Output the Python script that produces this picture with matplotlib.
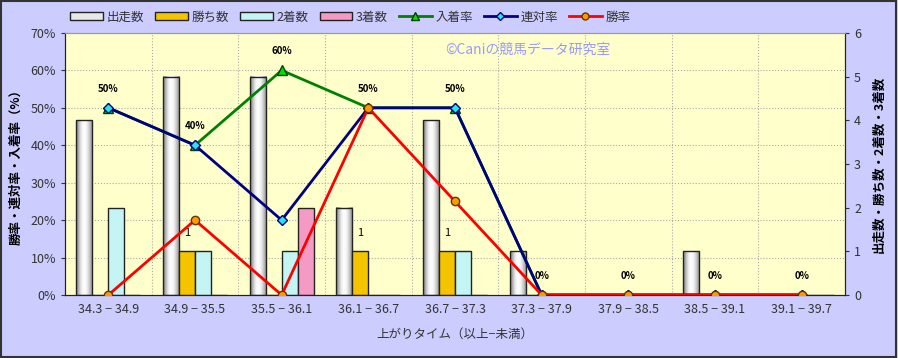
import numpy as np
import matplotlib
matplotlib.use("Agg")
import matplotlib.pyplot as plt
from matplotlib.patches import Rectangle, Patch
from matplotlib.lines import Line2D

plt.rcParams['font.family'] = ['Noto Sans CJK JP', 'DejaVu Sans']

# データ
categories = ['34.3 − 34.9', '34.9 − 35.5', '35.5 − 36.1', '36.1 − 36.7', '36.7 − 37.3',
              '37.3 − 37.9', '37.9 − 38.5', '38.5 − 39.1', '39.1 − 39.7']
runs = [4, 5, 5, 2, 4, 1, 0, 1, 0]
wins = [0, 1, 0, 1, 1, 0, 0, 0, 0]
seconds = [2, 1, 1, 0, 1, 0, 0, 0, 0]
thirds = [0, 0, 2, 0, 0, 0, 0, 0, 0]
place_rate = [50, 40, 60, 50, 50, 0, 0, 0, 0]
rentai_rate = [50, 40, 20, 50, 50, 0, 0, 0, 0]
win_rate = [0, 20, 0, 50, 25, 0, 0, 0, 0]

bg = '#CCCCFF'
fig = plt.figure(figsize=(8.98, 3.58), dpi=100, facecolor=bg)
fig.patches.append(Rectangle((0.001, 0.002), 0.997, 0.996, transform=fig.transFigure,
                             fill=False, edgecolor='#333333', linewidth=1.5))

ax = fig.add_axes([0.0724, 0.176, 0.8686, 0.732])
ax2 = ax.twinx()
ax.set_zorder(ax2.get_zorder() + 1)
ax.patch.set_visible(False)
ax2.patch.set_visible(True)
ax2.set_facecolor('#FFFFCC')

x = np.arange(len(categories))
w = 0.185

# グリッド（左軸の10%刻み）
for t in range(10, 70, 10):
    ax2.axhline(t * 6 / 70, color='#AAAAAA', linestyle=':', linewidth=0.8, zorder=0)
for b in np.arange(0.5, len(categories) - 0.5, 1):
    ax2.axvline(b, color='#AAAAAA', linestyle=':', linewidth=0.8, zorder=0)

# 棒グラフ（右軸）
grad = np.array([[0.55, 0.8, 0.97, 1.0, 0.95, 0.8, 0.6]])
for i, v in enumerate(runs):
    if v > 0:
        left = x[i] - 2 * w
        ax2.imshow(grad, cmap='gray', vmin=0, vmax=1, aspect='auto',
                   extent=(left, left + w, 0, v), zorder=2, interpolation='bicubic')
        ax2.add_patch(Rectangle((left, 0), w, v, fill=False, edgecolor='#222222',
                                linewidth=1, zorder=3))
ax2.bar(x - 0.5 * w, wins, w, color='#F5C400', edgecolor='#222222', linewidth=1, zorder=3)
ax2.bar(x + 0.5 * w, seconds, w, color='#C4F4F4', edgecolor='#222222', linewidth=1, zorder=3)
ax2.bar(x + 1.5 * w, thirds, w, color='#F59AC4', edgecolor='#222222', linewidth=1, zorder=3)
for i, v in enumerate(wins):
    if v > 0:
        ax2.text(x[i] - 0.5 * w, v + 0.3, str(v), ha='center', va='bottom', fontsize=8)
ax2.set_xlim(-0.5, len(categories) - 0.5)
ax2.set_ylim(0, 6)
ax2.set_yticks(range(7))
ax2.tick_params(axis='y', direction='out', length=3, labelsize=9, colors='#333333')
ax2.set_ylabel('出走数・勝ち数・2着数・3着数', fontsize=9, fontweight='bold', labelpad=8)

# 折れ線グラフ（左軸）
ax.plot(x, place_rate, color='#008000', linewidth=2, marker='^', markersize=7,
        markerfacecolor='#00DD00', markeredgecolor='#004000', zorder=4)
ax.plot(x, rentai_rate, color='#000080', linewidth=2, marker='D', markersize=5,
        markerfacecolor='#22E5F0', markeredgecolor='#000080', zorder=5)
ax.plot(x, win_rate, color='#FF0000', linewidth=2, marker='o', markersize=6,
        markerfacecolor='#FF9900', markeredgecolor='#663300', zorder=6)
for i, v in enumerate(place_rate):
    ax.annotate(f'{v}%', (x[i], v), xytext=(0, 10), textcoords='offset points',
                ha='center', va='bottom', fontsize=7, fontweight='bold', zorder=7)

ax.set_xlim(-0.5, len(categories) - 0.5)
ax.set_ylim(0, 70)
ax.set_yticks(range(0, 71, 10))
ax.set_yticklabels([f'{t}%' for t in range(0, 71, 10)])
ax.set_xticks(x)
ax.set_xticklabels(categories)
ax.tick_params(axis='x', length=0, labelsize=9, pad=6, colors='#333333')
ax.tick_params(axis='y', direction='out', length=3, labelsize=9, colors='#333333')
ax.set_ylabel('勝率・連対率・入着率（%）', fontsize=9, fontweight='bold', labelpad=6)
ax.set_xlabel('上がりタイム（以上−未満）', fontsize=9, labelpad=8, color='#333333')

for a in (ax, ax2):
    a.spines['top'].set_color('#999999')
    a.spines['left'].set_color('#222222')
    a.spines['right'].set_color('#222222')
    a.spines['bottom'].set_color('#222222')

fig.text(0.496, 0.86, '©Caniの競馬データ研究室', fontsize=10, color='#9999FF', va='center')

handles = [
    Patch(facecolor='#E8E8E8', edgecolor='#222222', label='出走数'),
    Patch(facecolor='#F5C400', edgecolor='#222222', label='勝ち数'),
    Patch(facecolor='#C4F4F4', edgecolor='#222222', label='2着数'),
    Patch(facecolor='#F59AC4', edgecolor='#222222', label='3着数'),
    Line2D([], [], color='#008000', linewidth=2, marker='^', markersize=6,
           markerfacecolor='#00DD00', markeredgecolor='#004000', label='入着率'),
    Line2D([], [], color='#000080', linewidth=2, marker='D', markersize=4,
           markerfacecolor='#22E5F0', markeredgecolor='#000080', label='連対率'),
    Line2D([], [], color='#FF0000', linewidth=2, marker='o', markersize=5,
           markerfacecolor='#FF9900', markeredgecolor='#663300', label='勝率'),
]
fig.legend(handles=handles, loc='center', bbox_to_anchor=(0.39, 0.952), ncol=7,
           frameon=False, fontsize=9, handlelength=2.6, handleheight=0.6,
           columnspacing=0.9, handletextpad=0.3, labelcolor='#333333')

fig.savefig('out.png', dpi=100, facecolor=bg)
